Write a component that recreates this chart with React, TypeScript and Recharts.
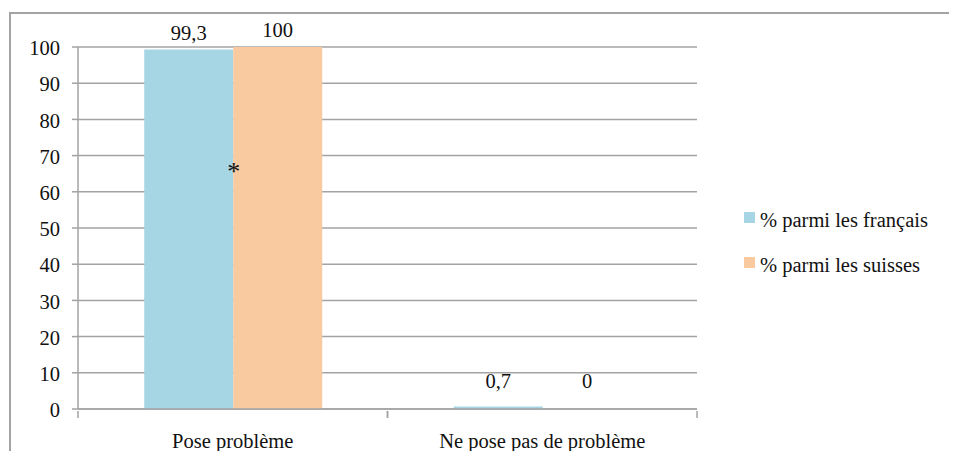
import React from "react";
import {
  BarChart,
  Bar,
  XAxis,
  YAxis,
  CartesianGrid,
  Legend,
  LabelList,
  ReferenceDot,
} from "recharts";

const categories = ["Pose problème", "Ne pose pas de problème"];
const francais = [99.3, 0.7];
const suisses = [100, 0];
const yTicks = [0, 10, 20, 30, 40, 50, 60, 70, 80, 90, 100];
const seriesNames = ["% parmi les français", "% parmi les suisses"];
const colors = ["#A6D5E3", "#F9C9A0"];

const data = categories.map((name, i) => ({
  name,
  fr: francais[i],
  ch: suisses[i],
}));

const FONT = "Liberation Serif";
const FS = 20.5;
const GRAY = "#A3A3A3";

const fmt = (v: number) => String(v).replace(".", ",");

// zero-height bars get no label in recharts, so keep them a hair above 0
const barValue = (key: "fr" | "ch") => (d: any) => (d[key] === 0 ? 1e-9 : d[key]);

// label sits above the bar, but never lower than a fixed height above the axis
function ValueLabel(props: any) {
  const { x, y, width, height, value } = props;
  const base = y + height;
  const bottom = Math.min(y - 10, base - 21);
  return (
    <text x={x + width / 2} y={bottom} textAnchor="middle" fontFamily={FONT} fontSize={FS} fill="#111">
      {fmt(value)}
    </text>
  );
}

function CategoryTick(props: any) {
  const { x, y, payload, width } = props;
  const band = width / categories.length;
  return (
    <g>
      <line x1={x - band / 2} y1={y - 6} x2={x - band / 2} y2={y + 1} stroke={GRAY} strokeWidth={1.5} />
      <line x1={x + band / 2} y1={y - 6} x2={x + band / 2} y2={y + 1} stroke={GRAY} strokeWidth={1.5} />
      <text x={x} y={y + 31} textAnchor="middle" fontFamily={FONT} fontSize={FS} fill="#111">
        {payload.value}
      </text>
    </g>
  );
}

// padding inside the svg so glyph ascenders are not clipped
function LegendBox() {
  return (
    <svg width={195} height={100}>
      {seriesNames.map((n, i) => (
        <g key={n}>
          <rect x={0} y={i * 45 + 6} width={11} height={11} fill={colors[i]} />
          <text x={16} y={i * 45 + 21} fontFamily={FONT} fontSize={FS} fill="#111">
            {n}
          </text>
        </g>
      ))}
    </svg>
  );
}

export default function App() {
  return (
    <div style={{ position: "relative", margin: -8, width: 957, height: 459, overflow: "hidden" }}>
      <div style={{ position: "absolute", left: 9, top: 12, width: 948, height: 2, background: GRAY }} />
      <div style={{ position: "absolute", left: 9, top: 12, width: 2, height: 447, background: GRAY }} />
      <BarChart
        width={957}
        height={459}
        data={data}
        margin={{ top: 47, right: 260, bottom: 20, left: 8 }}
        barCategoryGap="21.4%"
        barGap={0}
        style={{ position: "absolute", left: 0, top: 0 }}
      >
        <CartesianGrid vertical={false} stroke={GRAY} strokeWidth={1.5} />
        <XAxis
          dataKey="name"
          height={30}
          axisLine={{ stroke: GRAY, strokeWidth: 1.5 }}
          tickLine={false}
          tick={<CategoryTick />}
          interval={0}
        />
        <YAxis
          width={70}
          domain={[0, 100]}
          ticks={yTicks}
          interval={0}
          axisLine={{ stroke: GRAY, strokeWidth: 1.5 }}
          tickLine={{ stroke: GRAY, strokeWidth: 1.5 }}
          tickSize={6}
          tickMargin={12}
          tick={{ fontFamily: FONT, fontSize: FS, fill: "#111", dy: 1 }}
        />
        <Legend
          layout="vertical"
          align="center"
          verticalAlign="middle"
          content={<LegendBox />}
          wrapperStyle={{ left: 744, top: 206, width: 195 }}
        />
        <Bar dataKey={barValue("fr")} name={seriesNames[0]} fill={colors[0]} isAnimationActive={false}>
          <LabelList dataKey="fr" content={<ValueLabel />} />
        </Bar>
        <Bar dataKey={barValue("ch")} name={seriesNames[1]} fill={colors[1]} isAnimationActive={false}>
          <LabelList dataKey="ch" content={<ValueLabel />} />
        </Bar>
        <ReferenceDot
          x={categories[0]}
          y={66}
          r={0}
          fill="none"
          stroke="none"
          label={{ value: "*", position: "center", fontFamily: FONT, fontSize: 26, fill: "#111", dx: 1, dy: 1 }}
        />
      </BarChart>
    </div>
  );
}
